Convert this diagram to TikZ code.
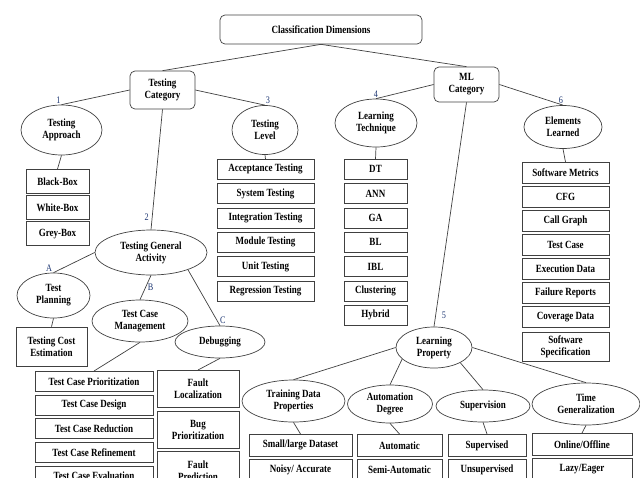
\documentclass[tikz,border=0pt]{standalone}
\usepackage{fontspec}
\setmainfont{Liberation Serif}[FakeStretch=0.82]
\usepackage{xcolor}
\usetikzlibrary{shapes.geometric, positioning}
\definecolor{numblue}{RGB}{30,55,115}

\begin{document}
\begin{tikzpicture}[x=1pt, y=-1pt, node distance=3pt,
    font=\bfseries\fontsize{11}{12}\selectfont,
    leaf/.style={rectangle, draw=black!75, line width=0.7pt, minimum width=#1, minimum height=20pt, inner sep=0pt, align=center}]
    \tikzstyle{cat} = [rectangle, rounded corners=5pt, draw=black!75, line width=0.7pt, inner sep=0pt, align=center]
    \tikzstyle{prop} = [ellipse, draw=black!75, line width=0.7pt, inner sep=0pt, align=center]
    \tikzstyle{link} = [draw=black!75, line width=0.7pt]
    \tikzstyle{num} = [font=\mdseries\fontsize{10}{10}\selectfont, text=numblue, inner sep=1pt]

    \useasboundingbox (0,0) rectangle (640,477);
    \clip (0,0) rectangle (640,477);

    % top levels
    \node (root) [cat, minimum width=202pt, minimum height=29pt] at (321,29.5) {Classification Dimensions};
    \node (tcat) [cat, minimum width=65pt, minimum height=38pt] at (162.5,90) {Testing\\Category};
    \node (mlcat) [cat, minimum width=65pt, minimum height=35pt] at (466.5,84.5) {ML\\Category};

    % dimensions
    \node (tapp) [prop, minimum width=81pt, minimum height=50pt] at (61.5,130) {Testing\\Approach};
    \node (tlev) [prop, minimum width=66pt, minimum height=49pt] at (265,130) {Testing\\Level};
    \node (ltech) [prop, minimum width=82pt, minimum height=48pt] at (376,123) {Learning\\Technique};
    \node (elearn) [prop, minimum width=78pt, minimum height=43pt] at (563,127) {Elements\\Learned};
    \node (tga) [prop, minimum width=112pt, minimum height=45pt] at (151,252.5) {Testing General\\Activity};
    \node (tplan) [prop, minimum width=73pt, minimum height=45pt] at (53.5,295.5) {Test\\Planning};
    \node (tcm) [prop, minimum width=96pt, minimum height=42pt] at (140,321) {Test Case\\Management};
    \node (debug) [prop, minimum width=90pt, minimum height=32pt] at (220,342) {Debugging};
    \node (lprop) [prop, minimum width=76pt, minimum height=41pt] at (434,347.5) {Learning\\Property};
    \node (tdp) [prop, minimum width=103pt, minimum height=42pt] at (293.5,401) {Training Data\\Properties};
    \node (autod) [prop, minimum width=85pt, minimum height=38pt] at (390,404) {Automation\\Degree};
    \node (superv) [prop, minimum width=94pt, minimum height=32pt] at (483,406) {Supervision};
    \node (timeg) [prop, minimum width=108pt, minimum height=42pt] at (586,404) {Time\\Generalization};

    % testing approach
    \node (bbox) [leaf=63pt, minimum height=24pt, anchor=north] at (57.5,169) {Black-Box};
    \node (wbox) [leaf=63pt, minimum height=24pt, below=1.5pt of bbox] {White-Box};
    \node (gbox) [leaf=63pt, minimum height=24pt, below=1.5pt of wbox] {Grey-Box};

    % testing level
    \node (acc) [leaf=97pt, anchor=north] at (265.5,159) {Acceptance Testing};
    \node (syst) [leaf=97pt, below=3.6pt of acc] {System Testing};
    \node (integ) [leaf=97pt, below=3.6pt of syst] {Integration Testing};
    \node (modt) [leaf=97pt, below=3.6pt of integ] {Module Testing};
    \node (unitt) [leaf=97pt, below=3.6pt of modt] {Unit Testing};
    \node (regr) [leaf=97pt, below=3.6pt of unitt] {Regression Testing};

    % learning technique
    \node (dt) [leaf=63pt, anchor=north] at (375.5,159) {DT};
    \node (ann) [leaf=63pt, below=3.6pt of dt] {ANN};
    \node (ga) [leaf=63pt, below=3.6pt of ann] {GA};
    \node (bl) [leaf=63pt, below=3.6pt of ga] {BL};
    \node (ibl) [leaf=63pt, below=3.6pt of bl] {IBL};
    \node (clust) [leaf=63pt, below=3.6pt of ibl] {Clustering};
    \node (hyb) [leaf=63pt, below=3.6pt of clust] {Hybrid};

    % elements learned
    \node (smet) [leaf=87pt, minimum height=21pt, anchor=north] at (565.5,162) {Software Metrics};
    \node (cfg) [leaf=87pt, minimum height=21pt, below=2.3pt of smet] {CFG};
    \node (cgraph) [leaf=87pt, minimum height=21pt, below=2.3pt of cfg] {Call Graph};
    \node (tcase) [leaf=87pt, minimum height=21pt, below=2.3pt of cgraph] {Test Case};
    \node (exec) [leaf=87pt, minimum height=21pt, below=2.3pt of tcase] {Execution Data};
    \node (fail) [leaf=87pt, minimum height=21pt, below=2.3pt of exec] {Failure Reports};
    \node (cov) [leaf=87pt, minimum height=21pt, below=2.3pt of fail] {Coverage Data};
    \node (sspec) [leaf=87pt, minimum height=29pt, below=4pt of cov] {Software\\Specification};

    % general activity
    \node (tce) [leaf=71pt, minimum height=39pt] at (51.5,346.5) {Testing Cost\\Estimation};
    \node (tcp) [leaf=118pt, anchor=north] at (94,371) {Test Case Prioritization};
    \node (tcd) [leaf=118pt, below=3pt of tcp] {Test Case Design};
    \node (tcr) [leaf=118pt, below=3pt of tcd] {Test Case Reduction};
    \node (tcref) [leaf=118pt, below=3pt of tcr] {Test Case Refinement};
    \node (tceval) [leaf=118pt, below=3pt of tcref] {Test Case Evaluation};
    \node (floc) [leaf=82pt, minimum height=37pt, anchor=north] at (198,370) {Fault\\Localization};
    \node (bugp) [leaf=82pt, minimum height=37pt, below=3pt of floc] {Bug\\Prioritization};
    \node (fpred) [leaf=82pt, minimum height=37pt, below=3pt of bugp] {Fault\\Prediction};

    % learning property
    \node (small) [leaf=103pt, minimum height=22pt, anchor=north] at (300.5,434) {Small/large Dataset};
    \node (noisy) [leaf=103pt, minimum height=22pt, below=2pt of small] {Noisy/ Accurate};
    \node (automa) [leaf=85pt, minimum height=22pt, anchor=north] at (399.5,434) {Automatic};
    \node (semi) [leaf=85pt, minimum height=22pt, below=2pt of automa] {Semi-Automatic};
    \node (supd) [leaf=78pt, minimum height=22pt, anchor=north] at (487,434) {Supervised};
    \node (unsup) [leaf=78pt, minimum height=22pt, below=2pt of supd] {Unsupervised};
    \node (online) [leaf=100pt, minimum height=22pt, anchor=north] at (582,433) {Online/Offline};
    \node (lazy) [leaf=100pt, minimum height=22pt, below=2pt of online] {Lazy/Eager};

    % connectors
    \draw [link] (root.south) -- (tcat.north);
    \draw [link] (root.south) -- (mlcat.north);
    \draw [link] (tcat.west) -- node[num, at end, above, xshift=-3pt] {1} (tapp.north);
    \draw [link] (tcat.south) -- node[num, pos=0.9, left=2pt] {2} (tga.north);
    \draw [link] (tcat.east) -- node[num, at end, above, xshift=3pt] {3} (tlev.north);
    \draw [link] (mlcat.west) -- node[num, at end, above] {4} (ltech.north);
    \draw [link] (mlcat.south) -- node[num, pos=0.95, right=5pt] {5} (lprop.north);
    \draw [link] (mlcat.east) -- node[num, at end, above, xshift=-2pt] {6} (elearn.north);
    \draw [link] (tga.west) -- node[num, at end, above left=0pt and 0pt] {A} (tplan.north);
    \draw [link] (tga.south) -- node[num, midway, right=1pt] {B} (tcm.north);
    \draw [link] (tga.-25) -- node[num, pos=0.9, right=2pt] {C} (debug.north);
    \draw [link] (tapp.south) -- (bbox.north);
    \draw [link] (tlev.south) -- (acc.north);
    \draw [link] (ltech.south) -- (dt.north);
    \draw [link] (elearn.south) -- (smet.north);
    \draw [link] (tplan.south) -- (tce.north);
    \draw [link] (tcm.south) -- (tcp.north);
    \draw [link] (debug.south) -- (floc.north);
    \draw [link] (lprop.west) -- (tdp.north);
    \draw [link] (lprop.200) -- (autod.north);
    \draw [link] (lprop.-30) -- (superv.north);
    \draw [link] (lprop.east) -- (timeg.north);
    \draw [link] (tdp.south) -- (small.north);
    \draw [link] (autod.south) -- (automa.north);
    \draw [link] (superv.south) -- (supd.north);
    \draw [link] (timeg.south) -- (online.north);
\end{tikzpicture}
\end{document}
